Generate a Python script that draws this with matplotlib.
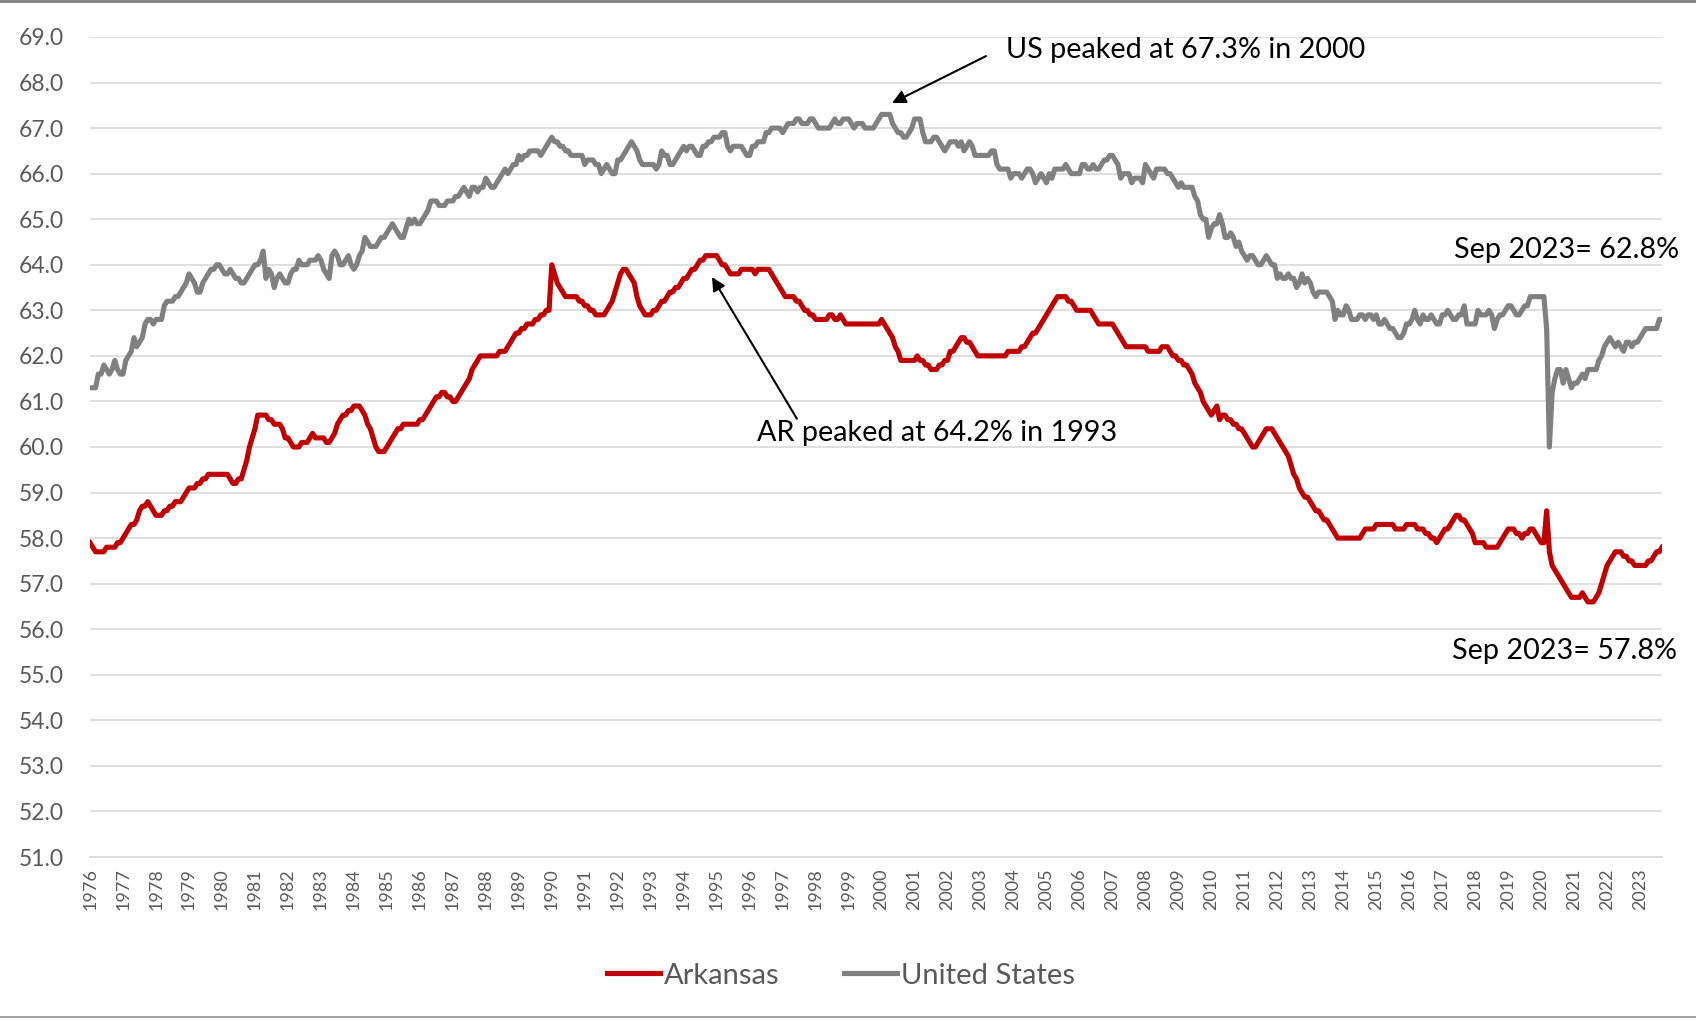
import matplotlib
matplotlib.use("Agg")
import matplotlib.pyplot as plt
from matplotlib.lines import Line2D
import numpy as np

plt.rcParams['font.family'] = ['Lato', 'DejaVu Sans']

# Labor force participation rate, monthly, Jan 1976 - Sep 2023 (one row per year)
years = list(range(1976, 2024))

arkansas = [
    [57.9, 57.8, 57.7, 57.7, 57.7, 57.7, 57.8, 57.8, 57.8, 57.8, 57.9, 57.9],  # 1976
    [58.0, 58.1, 58.2, 58.3, 58.3, 58.4, 58.6, 58.7, 58.7, 58.8, 58.7, 58.6],
    [58.5, 58.5, 58.5, 58.6, 58.6, 58.7, 58.7, 58.8, 58.8, 58.8, 58.9, 59.0],
    [59.1, 59.1, 59.1, 59.2, 59.2, 59.3, 59.3, 59.4, 59.4, 59.4, 59.4, 59.4],
    [59.4, 59.4, 59.4, 59.3, 59.2, 59.2, 59.3, 59.3, 59.5, 59.7, 60.0, 60.2],  # 1980
    [60.4, 60.7, 60.7, 60.7, 60.7, 60.6, 60.6, 60.5, 60.5, 60.5, 60.4, 60.2],
    [60.2, 60.1, 60.0, 60.0, 60.0, 60.1, 60.1, 60.1, 60.2, 60.3, 60.2, 60.2],
    [60.2, 60.2, 60.1, 60.1, 60.2, 60.3, 60.5, 60.6, 60.7, 60.7, 60.8, 60.8],
    [60.9, 60.9, 60.9, 60.8, 60.7, 60.5, 60.4, 60.2, 60.0, 59.9, 59.9, 59.9],
    [60.0, 60.1, 60.2, 60.3, 60.4, 60.4, 60.5, 60.5, 60.5, 60.5, 60.5, 60.5],  # 1985
    [60.6, 60.6, 60.7, 60.8, 60.9, 61.0, 61.1, 61.1, 61.2, 61.2, 61.1, 61.1],
    [61.0, 61.0, 61.1, 61.2, 61.3, 61.4, 61.5, 61.7, 61.8, 61.9, 62.0, 62.0],
    [62.0, 62.0, 62.0, 62.0, 62.0, 62.1, 62.1, 62.1, 62.2, 62.3, 62.4, 62.5],
    [62.5, 62.6, 62.6, 62.7, 62.7, 62.7, 62.8, 62.8, 62.9, 62.9, 63.0, 63.0],
    [64.0, 63.8, 63.6, 63.5, 63.4, 63.3, 63.3, 63.3, 63.3, 63.3, 63.2, 63.2],  # 1990
    [63.1, 63.1, 63.0, 63.0, 62.9, 62.9, 62.9, 62.9, 63.0, 63.1, 63.2, 63.4],
    [63.6, 63.8, 63.9, 63.9, 63.8, 63.7, 63.6, 63.3, 63.1, 63.0, 62.9, 62.9],
    [62.9, 63.0, 63.0, 63.1, 63.2, 63.2, 63.3, 63.4, 63.4, 63.5, 63.5, 63.6],
    [63.7, 63.7, 63.8, 63.9, 63.9, 64.0, 64.1, 64.1, 64.2, 64.2, 64.2, 64.2],
    [64.2, 64.1, 64.0, 64.0, 63.9, 63.8, 63.8, 63.8, 63.8, 63.9, 63.9, 63.9],  # 1995
    [63.9, 63.9, 63.8, 63.9, 63.9, 63.9, 63.9, 63.9, 63.8, 63.7, 63.6, 63.5],
    [63.4, 63.3, 63.3, 63.3, 63.3, 63.2, 63.2, 63.1, 63.0, 63.0, 62.9, 62.9],
    [62.8, 62.8, 62.8, 62.8, 62.8, 62.9, 62.9, 62.8, 62.8, 62.9, 62.8, 62.7],
    [62.7, 62.7, 62.7, 62.7, 62.7, 62.7, 62.7, 62.7, 62.7, 62.7, 62.7, 62.7],
    [62.8, 62.7, 62.6, 62.5, 62.4, 62.2, 62.1, 61.9, 61.9, 61.9, 61.9, 61.9],  # 2000
    [61.9, 62.0, 61.9, 61.9, 61.8, 61.8, 61.7, 61.7, 61.7, 61.8, 61.8, 61.9],
    [61.9, 62.1, 62.1, 62.2, 62.3, 62.4, 62.4, 62.3, 62.3, 62.2, 62.1, 62.0],
    [62.0, 62.0, 62.0, 62.0, 62.0, 62.0, 62.0, 62.0, 62.0, 62.0, 62.1, 62.1],
    [62.1, 62.1, 62.1, 62.2, 62.2, 62.3, 62.4, 62.5, 62.5, 62.6, 62.7, 62.8],
    [62.9, 63.0, 63.1, 63.2, 63.3, 63.3, 63.3, 63.3, 63.2, 63.2, 63.1, 63.0],  # 2005
    [63.0, 63.0, 63.0, 63.0, 63.0, 62.9, 62.8, 62.7, 62.7, 62.7, 62.7, 62.7],
    [62.7, 62.6, 62.5, 62.4, 62.3, 62.2, 62.2, 62.2, 62.2, 62.2, 62.2, 62.2],
    [62.2, 62.1, 62.1, 62.1, 62.1, 62.1, 62.2, 62.2, 62.2, 62.1, 62.0, 62.0],
    [61.9, 61.9, 61.8, 61.8, 61.7, 61.6, 61.4, 61.3, 61.2, 61.0, 60.9, 60.8],
    [60.7, 60.8, 60.9, 60.6, 60.7, 60.7, 60.6, 60.6, 60.5, 60.5, 60.4, 60.4],  # 2010
    [60.3, 60.2, 60.1, 60.0, 60.0, 60.1, 60.2, 60.3, 60.4, 60.4, 60.4, 60.3],
    [60.2, 60.1, 60.0, 59.9, 59.8, 59.6, 59.4, 59.3, 59.1, 59.0, 58.9, 58.9],
    [58.8, 58.7, 58.6, 58.6, 58.5, 58.4, 58.4, 58.3, 58.2, 58.1, 58.0, 58.0],
    [58.0, 58.0, 58.0, 58.0, 58.0, 58.0, 58.0, 58.1, 58.2, 58.2, 58.2, 58.2],
    [58.3, 58.3, 58.3, 58.3, 58.3, 58.3, 58.3, 58.2, 58.2, 58.2, 58.2, 58.3],  # 2015
    [58.3, 58.3, 58.3, 58.2, 58.2, 58.2, 58.1, 58.1, 58.0, 58.0, 57.9, 58.0],
    [58.1, 58.2, 58.2, 58.3, 58.4, 58.5, 58.5, 58.4, 58.4, 58.3, 58.2, 58.1],
    [57.9, 57.9, 57.9, 57.9, 57.8, 57.8, 57.8, 57.8, 57.8, 57.9, 58.0, 58.1],
    [58.2, 58.2, 58.2, 58.1, 58.1, 58.0, 58.1, 58.1, 58.2, 58.2, 58.1, 58.0],
    [57.9, 57.9, 58.6, 57.7, 57.4, 57.3, 57.2, 57.1, 57.0, 56.9, 56.8, 56.7],  # 2020
    [56.7, 56.7, 56.7, 56.8, 56.7, 56.6, 56.6, 56.6, 56.7, 56.8, 57.0, 57.2],
    [57.4, 57.5, 57.6, 57.7, 57.7, 57.7, 57.6, 57.6, 57.5, 57.5, 57.4, 57.4],
    [57.4, 57.4, 57.4, 57.5, 57.5, 57.6, 57.7, 57.7, 57.8],                    # 2023
]

united_states = [
    [61.3, 61.3, 61.3, 61.6, 61.6, 61.8, 61.7, 61.6, 61.7, 61.9, 61.7, 61.6],  # 1976
    [61.6, 61.9, 62.0, 62.1, 62.4, 62.2, 62.3, 62.4, 62.7, 62.8, 62.8, 62.7],
    [62.8, 62.8, 62.8, 63.1, 63.2, 63.2, 63.2, 63.3, 63.3, 63.4, 63.5, 63.6],
    [63.8, 63.7, 63.6, 63.4, 63.4, 63.6, 63.7, 63.8, 63.9, 63.9, 64.0, 64.0],
    [63.9, 63.8, 63.8, 63.9, 63.8, 63.7, 63.7, 63.6, 63.6, 63.7, 63.8, 63.9],  # 1980
    [64.0, 64.0, 64.1, 64.3, 63.7, 63.9, 63.8, 63.5, 63.7, 63.8, 63.7, 63.6],
    [63.6, 63.8, 63.9, 63.9, 64.1, 64.0, 64.0, 64.0, 64.1, 64.1, 64.1, 64.2],
    [64.1, 63.9, 63.8, 63.7, 64.2, 64.3, 64.2, 64.0, 64.0, 64.1, 64.2, 64.0],
    [63.9, 64.0, 64.2, 64.3, 64.6, 64.5, 64.4, 64.4, 64.4, 64.5, 64.6, 64.6],
    [64.7, 64.8, 64.9, 64.8, 64.7, 64.6, 64.6, 64.8, 65.0, 64.9, 65.0, 64.9],  # 1985
    [64.9, 65.0, 65.1, 65.2, 65.4, 65.4, 65.4, 65.3, 65.3, 65.3, 65.4, 65.4],
    [65.4, 65.5, 65.5, 65.6, 65.7, 65.6, 65.5, 65.7, 65.7, 65.6, 65.7, 65.7],
    [65.9, 65.8, 65.7, 65.7, 65.8, 65.9, 66.0, 66.1, 66.0, 66.1, 66.2, 66.2],
    [66.4, 66.3, 66.4, 66.4, 66.5, 66.5, 66.5, 66.5, 66.4, 66.5, 66.6, 66.7],
    [66.8, 66.7, 66.7, 66.6, 66.6, 66.5, 66.5, 66.4, 66.4, 66.4, 66.4, 66.4],  # 1990
    [66.2, 66.3, 66.3, 66.3, 66.2, 66.2, 66.0, 66.1, 66.2, 66.1, 66.0, 66.0],
    [66.3, 66.3, 66.4, 66.5, 66.6, 66.7, 66.6, 66.5, 66.3, 66.2, 66.2, 66.2],
    [66.2, 66.2, 66.1, 66.2, 66.5, 66.4, 66.4, 66.2, 66.2, 66.3, 66.4, 66.5],
    [66.6, 66.5, 66.6, 66.6, 66.5, 66.4, 66.4, 66.6, 66.6, 66.7, 66.7, 66.8],
    [66.8, 66.8, 66.9, 66.9, 66.6, 66.5, 66.6, 66.6, 66.6, 66.6, 66.5, 66.4],  # 1995
    [66.4, 66.6, 66.6, 66.7, 66.7, 66.7, 66.9, 66.9, 67.0, 67.0, 67.0, 67.0],
    [66.9, 67.0, 67.1, 67.1, 67.1, 67.2, 67.2, 67.1, 67.1, 67.1, 67.2, 67.2],
    [67.1, 67.0, 67.0, 67.0, 67.0, 67.0, 67.1, 67.2, 67.1, 67.1, 67.2, 67.2],
    [67.2, 67.1, 67.0, 67.1, 67.1, 67.1, 67.0, 67.0, 67.0, 67.0, 67.1, 67.2],
    [67.3, 67.3, 67.3, 67.3, 67.1, 67.0, 66.9, 66.9, 66.8, 66.8, 66.9, 67.0],  # 2000
    [67.2, 67.2, 67.2, 66.9, 66.7, 66.7, 66.7, 66.8, 66.8, 66.7, 66.6, 66.5],
    [66.6, 66.7, 66.7, 66.7, 66.6, 66.7, 66.5, 66.6, 66.7, 66.6, 66.4, 66.4],
    [66.4, 66.4, 66.4, 66.4, 66.5, 66.5, 66.2, 66.1, 66.1, 66.1, 66.1, 65.9],
    [66.0, 66.0, 66.0, 65.9, 66.0, 66.1, 66.1, 66.0, 65.8, 65.9, 66.0, 65.9],
    [65.8, 66.0, 65.9, 66.1, 66.1, 66.1, 66.1, 66.2, 66.1, 66.0, 66.0, 66.0],  # 2005
    [66.0, 66.2, 66.2, 66.1, 66.1, 66.2, 66.1, 66.1, 66.2, 66.3, 66.3, 66.4],
    [66.4, 66.3, 66.2, 65.9, 66.0, 66.0, 66.0, 65.8, 65.9, 65.9, 65.9, 65.8],
    [66.2, 66.1, 66.0, 65.9, 66.1, 66.1, 66.1, 66.1, 66.0, 66.0, 65.9, 65.8],
    [65.7, 65.8, 65.7, 65.7, 65.7, 65.7, 65.5, 65.4, 65.1, 65.0, 65.0, 64.6],
    [64.8, 64.9, 64.9, 65.1, 64.9, 64.6, 64.6, 64.7, 64.6, 64.4, 64.5, 64.3],  # 2010
    [64.2, 64.1, 64.2, 64.2, 64.1, 64.0, 64.0, 64.1, 64.2, 64.1, 64.0, 64.0],
    [63.7, 63.8, 63.7, 63.7, 63.8, 63.7, 63.7, 63.5, 63.6, 63.8, 63.6, 63.7],
    [63.6, 63.4, 63.3, 63.4, 63.4, 63.4, 63.4, 63.3, 63.2, 62.8, 63.0, 62.9],
    [62.9, 63.1, 63.0, 62.8, 62.8, 62.8, 62.9, 62.9, 62.8, 62.9, 62.9, 62.8],
    [62.9, 62.7, 62.7, 62.8, 62.7, 62.6, 62.6, 62.5, 62.4, 62.4, 62.5, 62.7],  # 2015
    [62.7, 62.8, 63.0, 62.8, 62.7, 62.9, 62.8, 62.8, 62.9, 62.8, 62.7, 62.7],
    [62.9, 62.9, 63.0, 62.9, 62.8, 62.8, 62.9, 62.9, 63.1, 62.7, 62.7, 62.7],
    [62.7, 63.0, 62.9, 62.9, 62.9, 63.0, 62.9, 62.6, 62.8, 62.9, 62.9, 63.0],
    [63.1, 63.1, 63.0, 62.9, 62.9, 63.0, 63.1, 63.1, 63.3, 63.3, 63.3, 63.3],
    [63.3, 63.3, 62.6, 60.0, 61.2, 61.5, 61.7, 61.7, 61.4, 61.7, 61.5, 61.3],  # 2020
    [61.4, 61.4, 61.5, 61.6, 61.5, 61.7, 61.7, 61.7, 61.7, 61.9, 62.0, 62.2],
    [62.3, 62.4, 62.3, 62.2, 62.3, 62.2, 62.1, 62.3, 62.3, 62.2, 62.3, 62.3],
    [62.4, 62.5, 62.6, 62.6, 62.6, 62.6, 62.6, 62.8, 62.8],                    # 2023
]

ar = np.concatenate(arkansas)
us = np.concatenate(united_states)
months = np.arange(len(ar))

RED = '#C00000'
GRAY = '#808080'
TICK = '#595959'

fig = plt.figure(figsize=(16.96, 10.21), dpi=100)
ax = fig.add_axes([0.0531, 0.1606, 0.9269, 0.8032])

ax.plot(months, ar, color=RED, lw=3.7, label='Arkansas', solid_joinstyle='round')
ax.plot(months, us, color=GRAY, lw=3.7, label='United States', solid_joinstyle='round')

ax.set_xlim(0, len(ar) - 1)
ax.set_ylim(51, 69)
ax.set_yticks(np.arange(51, 70, 1))
ax.set_yticklabels([f'{v:.1f}' for v in np.arange(51, 70, 1)])
ax.set_xticks([12 * i for i in range(len(years))])
ax.set_xticklabels([str(y) for y in years], rotation=90)

ax.grid(axis='y', color='#D9D9D9', lw=1.2)
ax.set_axisbelow(True)
for side in ['top', 'right', 'left']:
    ax.spines[side].set_visible(False)
ax.spines['bottom'].set_color('#D9D9D9')
ax.spines['bottom'].set_linewidth(1.2)
ax.tick_params(axis='y', length=0, pad=19, labelsize=16.5, labelcolor=TICK)
ax.tick_params(axis='x', length=0, pad=8, labelsize=13, labelcolor=TICK)

# annotations
ax.annotate('', xy=(291.8, 67.55), xytext=(326, 68.58),
            arrowprops=dict(arrowstyle='-|>', color='black', lw=1.5,
                            mutation_scale=20, shrinkA=0, shrinkB=0))
ax.text(333.3, 68.72, 'US peaked at 67.3% in 2000', fontsize=20.7, va='center', ha='left')

ax.annotate('', xy=(226.3, 63.73), xytext=(257.2, 60.62),
            arrowprops=dict(arrowstyle='-|>', color='black', lw=1.5,
                            mutation_scale=20, shrinkA=0, shrinkB=0))
ax.text(242.7, 60.3, 'AR peaked at 64.2% in 1993', fontsize=20.7, va='center', ha='left')

ax.text(496.3, 64.33, 'Sep 2023= 62.8%', fontsize=20.7, va='center', ha='left', clip_on=False)
ax.text(495.5, 55.53, 'Sep 2023= 57.8%', fontsize=20.7, va='center', ha='left', clip_on=False)

leg = fig.legend(loc='center', bbox_to_anchor=(0.496, 0.0445), ncol=2, frameon=False,
                 fontsize=21, handlelength=1.8, handletextpad=0.15, columnspacing=2.2)
for t in leg.get_texts():
    t.set_color(TICK)

# chart frame lines (top and bottom)
fig.add_artist(Line2D([0, 1], [0.999, 0.999], color='#7F7F7F', lw=2, transform=fig.transFigure))
fig.add_artist(Line2D([0, 1], [0.004, 0.004], color='#A6A6A6', lw=1.5, transform=fig.transFigure))

fig.savefig('out.png', dpi=100)
